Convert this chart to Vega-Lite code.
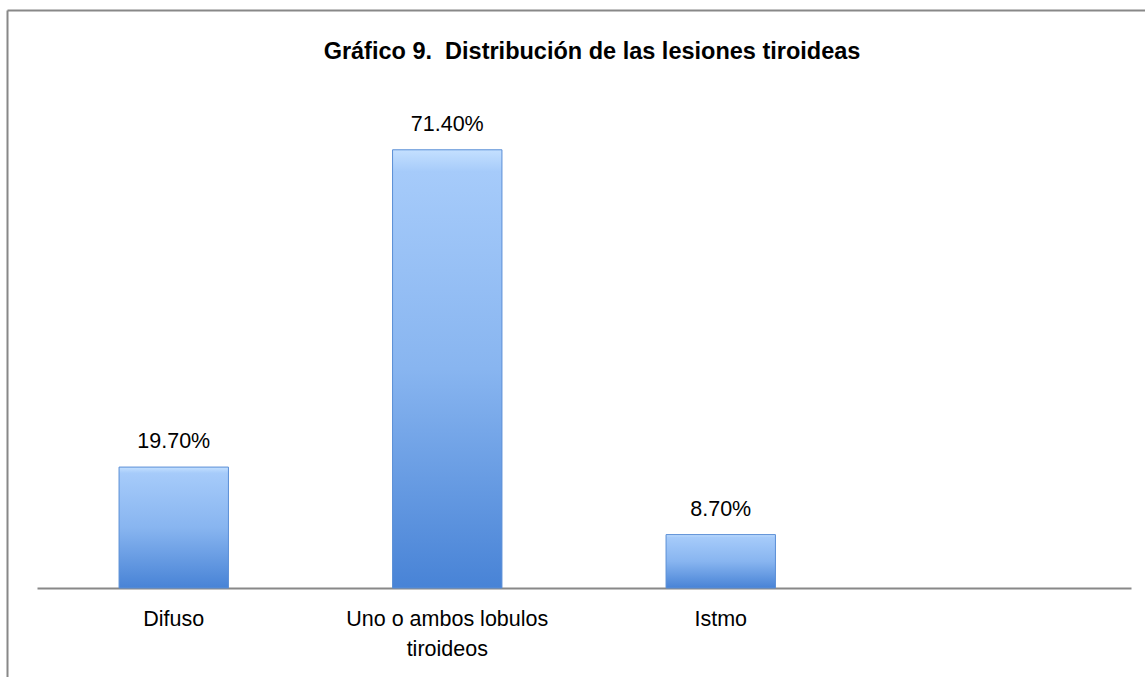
{
  "$schema": "https://vega.github.io/schema/vega-lite/v6.json",
  "width": 1138,
  "height": 667,
  "autosize": "none",
  "padding": {"left": 7, "top": 10, "right": 0, "bottom": 0},
  "background": "white",
  "config": {"view": {"stroke": null}, "font": "Liberation Sans"},
  "title": {
    "text": "Gráfico 9.\u00a0 Distribución de las lesiones tiroideas",
    "font": "Liberation Sans",
    "fontSize": 23.5,
    "fontWeight": "bold",
    "color": "#000000",
    "anchor": "middle",
    "offset": -53,
    "dx": 16
  },
  "layer": [
    {
      "data": {"values": [{"frame": 0}]},
      "mark": {"type": "point", "opacity": 0},
      "encoding": {
        "x": {
          "field": "frame", "type": "quantitative",
          "scale": {"domain": [0, 1]},
          "axis": {"orient": "top", "domain": true, "domainColor": "#888888", "domainWidth": 2, "ticks": false, "labels": false, "grid": false, "title": null}
        },
        "y": {
          "field": "frame", "type": "quantitative",
          "scale": {"domain": [0, 1]},
          "axis": {"orient": "left", "domain": true, "domainColor": "#888888", "domainWidth": 2, "ticks": false, "labels": false, "grid": false, "title": null}
        }
      }
    },
    {
      "data": {
        "values": [
          {"categoria": "Difuso", "porcentaje": 0.197},
          {"categoria": "Uno o ambos lobulos tiroideos", "porcentaje": 0.714},
          {"categoria": "Istmo", "porcentaje": 0.087}
        ]
      },
      "encoding": {
        "x": {
          "field": "categoria", "type": "nominal", "sort": null,
          "scale": {"domain": ["Difuso", "Uno o ambos lobulos tiroideos", "Istmo", " "], "range": [30, 1124], "paddingInner": 0.6, "paddingOuter": 0.3},
          "axis": {
            "orient": "bottom", "offset": -89, "title": null,
            "domainColor": "#888888", "domainWidth": 2, "ticks": false, "grid": false,
            "labelAngle": 0, "labelFont": "Liberation Sans", "labelFontSize": 21.5, "labelColor": "#000000",
            "labelPadding": 20, "labelLimit": 0, "labelLineHeight": 30,
            "labelExpr": "datum.value == 'Uno o ambos lobulos tiroideos' ? ['Uno o ambos lobulos', 'tiroideos'] : datum.label"
          }
        },
        "y": {
          "field": "porcentaje", "type": "quantitative",
          "scale": {"domain": [0, 0.8], "range": [578, 87]},
          "axis": null
        }
      },
      "layer": [
        {
          "mark": {
            "type": "bar",
            "stroke": "#5a8ed6",
            "strokeWidth": 1,
            "color": {
              "gradient": "linear", "x1": 0, "y1": 0, "x2": 0, "y2": 1,
              "stops": [
                {"offset": 0, "color": "#c4e0ff"},
                {"offset": 0.05, "color": "#a6cbfa"},
                {"offset": 0.5, "color": "#88b5f0"},
                {"offset": 1, "color": "#4883d6"}
              ]
            }
          }
        },
        {
          "mark": {"type": "text", "dy": -19, "baseline": "alphabetic", "font": "Liberation Sans", "fontSize": 21.5, "color": "#000000"},
          "encoding": {"text": {"field": "porcentaje", "type": "quantitative", "format": ".2%"}}
        }
      ]
    }
  ],
  "resolve": {
    "scale": {"x": "independent", "y": "independent"},
    "axis": {"x": "independent", "y": "independent"}
  }
}
